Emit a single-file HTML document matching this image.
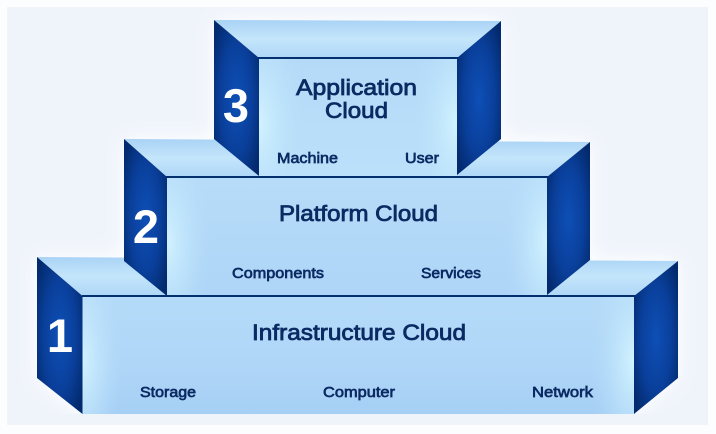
<!DOCTYPE html>
<html><head><meta charset="utf-8"><style>
html,body{margin:0;padding:0;background:#fbfdff;width:716px;height:434px;overflow:hidden}
svg{display:block}
text{font-family:"Liberation Sans",sans-serif;fill:#0b2a63;font-weight:400}
.big{stroke:#0b2a63;stroke-width:.8;font-size:22.5px}
.sm{font-size:14.5px;stroke:#0b2a63;stroke-width:.65}
.num{fill:#fff;font-size:47px;text-anchor:middle;font-weight:700}
</style></head><body>
<svg width="716" height="434" viewBox="0 0 716 434" xmlns="http://www.w3.org/2000/svg">
<defs>
<filter id="glow" x="-10%" y="-10%" width="120%" height="120%"><feGaussianBlur stdDeviation="10"/></filter>
<radialGradient id="side" cx=".5" cy=".5" r=".62">
<stop offset="0" stop-color="#0e4fb6"/><stop offset=".55" stop-color="#0a409c"/><stop offset="1" stop-color="#032a6e"/>
</radialGradient>
<radialGradient id="gl" cx="0" cy=".55" r="1" >
<stop offset="0" stop-color="#d2f2ff"/><stop offset=".45" stop-color="#c2e7fc" stop-opacity=".65"/><stop offset="1" stop-color="#b4dbf8" stop-opacity="0"/>
</radialGradient>
<radialGradient id="gr" cx="1" cy=".55" r="1">
<stop offset="0" stop-color="#d2f4ff"/><stop offset=".45" stop-color="#c2e7fc" stop-opacity=".65"/><stop offset="1" stop-color="#b4dbf8" stop-opacity="0"/>
</radialGradient>
<linearGradient id="f1" x1="0" x2="0" y1="0" y2="1">
<stop offset="0" stop-color="#b5dbf9"/><stop offset=".6" stop-color="#afd6f7"/><stop offset="1" stop-color="#a6cff5"/>
</linearGradient>
<linearGradient id="f2" x1="0" x2="0" y1="0" y2="1">
<stop offset="0" stop-color="#b7dcf9"/><stop offset="1" stop-color="#aed5f7"/>
</linearGradient>
<linearGradient id="f3" x1="0" x2="0" y1="0" y2="1">
<stop offset="0" stop-color="#b4daf8"/><stop offset="1" stop-color="#bbe0fa"/>
</linearGradient>
<linearGradient id="topg" x1="0" x2="0" y1="0" y2="1">
<stop offset="0" stop-color="#a9d2f5"/><stop offset=".5" stop-color="#c4e6fb"/><stop offset="1" stop-color="#aed6f7"/>
</linearGradient>
</defs>

<!-- background panel -->
<rect x="7" y="7" width="701" height="418" fill="#eff4fb"/>
<!-- glow -->
<polygon filter="url(#glow)" fill="#ffffff" points="37,257 124,257 124,139 214,139 214,20 501,20 501,139 590,142 590,260 678,260 678,378 634,414 82,414 37,378"/>
<rect x="7" y="414" width="701" height="11" fill="#eff4fb"/>

<!-- top faces, lowest tier first -->
<polygon points="37,257 678,261 634,296 82,296" fill="url(#topg)"/>
<polygon points="124,139 590,142 547,177 167,177" fill="url(#topg)"/>
<polygon points="214,20 501,21 457,58 259,58" fill="url(#topg)"/>

<!-- tier 3 -->
<polygon points="214,20 259,58 259,176 214,139" fill="url(#side)"/>
<polygon points="501,21 457,58 457,175 501,139" fill="url(#side)"/>
<rect x="259" y="58" width="198" height="118" fill="url(#f3)"/>
<rect x="259" y="58" width="50" height="118" fill="url(#gl)"/>
<rect x="407" y="58" width="50" height="118" fill="url(#gr)"/>
<line x1="258" y1="58" x2="458" y2="58" stroke="#04306f" stroke-width="2"/>

<!-- tier 2 -->
<polygon points="124,139 167,177 167,296 124,261" fill="url(#side)"/>
<polygon points="590,142 547,177 547,295 590,260" fill="url(#side)"/>
<rect x="167" y="177" width="380" height="119" fill="url(#f2)"/>
<rect x="167" y="177" width="45" height="119" fill="url(#gl)"/>
<rect x="502" y="177" width="45" height="119" fill="url(#gr)"/>
<line x1="166" y1="177" x2="548" y2="177" stroke="#04306f" stroke-width="2"/>

<!-- tier 1 -->
<polygon points="37,257 82.5,296 82.5,414 37,378" fill="url(#side)"/>
<polygon points="678,261 634,296 634,414 678,378" fill="url(#side)"/>
<rect x="82.5" y="296" width="551.5" height="118" fill="url(#f1)"/>
<rect x="82.5" y="296" width="40" height="118" fill="url(#gl)"/>
<rect x="590" y="296" width="44" height="118" fill="url(#gr)"/>
<line x1="82" y1="296" x2="635" y2="296" stroke="#04306f" stroke-width="2"/>

<!-- numbers -->
<text class="num" x="236" y="122">3</text>
<text class="num" x="146" y="243">2</text>
<text class="num" x="60" y="352">1</text>

<!-- labels -->
<text class="big" x="296" y="95" textLength="121" lengthAdjust="spacingAndGlyphs">Application</text>
<text class="big" x="325" y="118" textLength="63" lengthAdjust="spacingAndGlyphs">Cloud</text>
<text class="sm" x="277" y="163" textLength="61" lengthAdjust="spacingAndGlyphs">Machine</text>
<text class="sm" x="405" y="163" textLength="34" lengthAdjust="spacingAndGlyphs">User</text>

<text class="big" x="279" y="221" textLength="159" lengthAdjust="spacingAndGlyphs">Platform Cloud</text>
<text class="sm" x="232" y="278" textLength="92" lengthAdjust="spacingAndGlyphs">Components</text>
<text class="sm" x="421" y="278" textLength="60" lengthAdjust="spacingAndGlyphs">Services</text>

<text class="big" x="252" y="340" textLength="214" lengthAdjust="spacingAndGlyphs">Infrastructure Cloud</text>
<text class="sm" x="140" y="397" textLength="56" lengthAdjust="spacingAndGlyphs">Storage</text>
<text class="sm" x="323" y="397" textLength="72" lengthAdjust="spacingAndGlyphs">Computer</text>
<text class="sm" x="532" y="397" textLength="61" lengthAdjust="spacingAndGlyphs">Network</text>
</svg>
</body></html>
